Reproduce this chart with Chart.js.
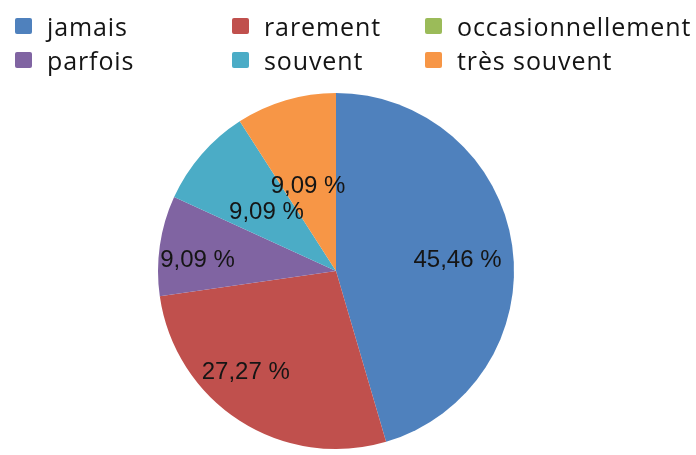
<!DOCTYPE html>
<html>
<head>
<meta charset="utf-8">
<script src="https://cdn.jsdelivr.net/npm/chart.js@4"></script>
<style>
  html, body { margin: 0; padding: 0; background: #fff; }
  #wrap { position: relative; width: 696px; height: 455px; }
  #myChart { position: absolute; left: 0; top: 0; }
  #legend { position: absolute; left: 0; top: 0; width: 696px; height: 90px; }
  .item { position: absolute; height: 30px; display: flex; align-items: center;
    font-family: "Open Sans", sans-serif; font-size: 25px; letter-spacing: 0.9px; color: #141414; white-space: nowrap; }
  .box { width: 17px; height: 16px; border-radius: 2px; margin-right: 15px; flex: none; }
</style>
</head>
<body>
<div id="wrap">
  <canvas id="myChart" width="696" height="455"></canvas>
  <div id="legend"></div>
</div>
<script>
'use strict';

// answers, in the order the slices go round (clockwise from 12 o'clock)
var categories = ['jamais', 'rarement', 'occasionnellement', 'parfois', 'souvent', 'très souvent']
var percents = [45.46, 27.27, 0, 9.09, 9.09, 9.09]
var colours = ['#4F81BD', '#C0504D', '#9BBB59', '#8064A2', '#4BACC6', '#F79646']

// legend grid : 3 columns, 2 rows, filled row by row
var legendCols = [15, 232, 425]
var legendRows = [11, 45]

// where each value label sits inside its slice (fraction of arc, fraction of radius)
var labelAlong = [0.52, 0.59, 0.5, 0.39, 0.47, 0.44]
var labelRadius = [0.685, 0.764, 0.5, 0.78, 0.51, 0.5]

const fmt = (v) => v.toFixed(2).replace('.', ',') + ' %'

var sliceLabels = {
	id: 'sliceLabels',
	afterDatasetsDraw(chart) {
		var ctx = chart.ctx
		var meta = chart.getDatasetMeta(0)
		ctx.save()
		ctx.font = '24px "Liberation Sans", Arial, sans-serif'
		ctx.fillStyle = '#151515'
		ctx.textAlign = 'center'
		ctx.textBaseline = 'middle'
		meta.data.forEach((arc, i) => {
			var v = chart.data.datasets[0].data[i]
			if (!v) return
			var p = arc.getProps(['x', 'y', 'startAngle', 'endAngle', 'outerRadius'], true)
			var a = p.startAngle + (p.endAngle - p.startAngle) * labelAlong[i]
			var r = p.outerRadius * labelRadius[i]
			ctx.fillText(fmt(v), p.x + Math.cos(a) * r, p.y + Math.sin(a) * r)
		})
		ctx.restore()
	}
}

var chart = new Chart(document.getElementById('myChart').getContext('2d'), {
	type: 'pie',
	data: {
		labels: categories,
		datasets: [{ data: percents, backgroundColor: colours, borderWidth: 0 }]
	},
	options: {
		responsive: false,
		animation: false,
		layout: { padding: { top: 93, bottom: 6, left: 158, right: 182 } },
		plugins: { legend: { display: false }, tooltip: { enabled: false } }
	},
	plugins: [sliceLabels]
})

function buildLegend() {
	var el = document.getElementById('legend')
	var items = chart.options.plugins.legend.labels.generateLabels(chart)
	items.forEach((it, i) => {
		var d = document.createElement('div')
		d.className = 'item'
		d.style.left = legendCols[i % 3] + 'px'
		d.style.top = legendRows[Math.floor(i / 3)] + 'px'
		var b = document.createElement('span')
		b.className = 'box'
		b.style.background = it.fillStyle
		d.appendChild(b)
		d.appendChild(document.createTextNode(it.text))
		el.appendChild(d)
	})
}
buildLegend()
</script>
</body>
</html>
